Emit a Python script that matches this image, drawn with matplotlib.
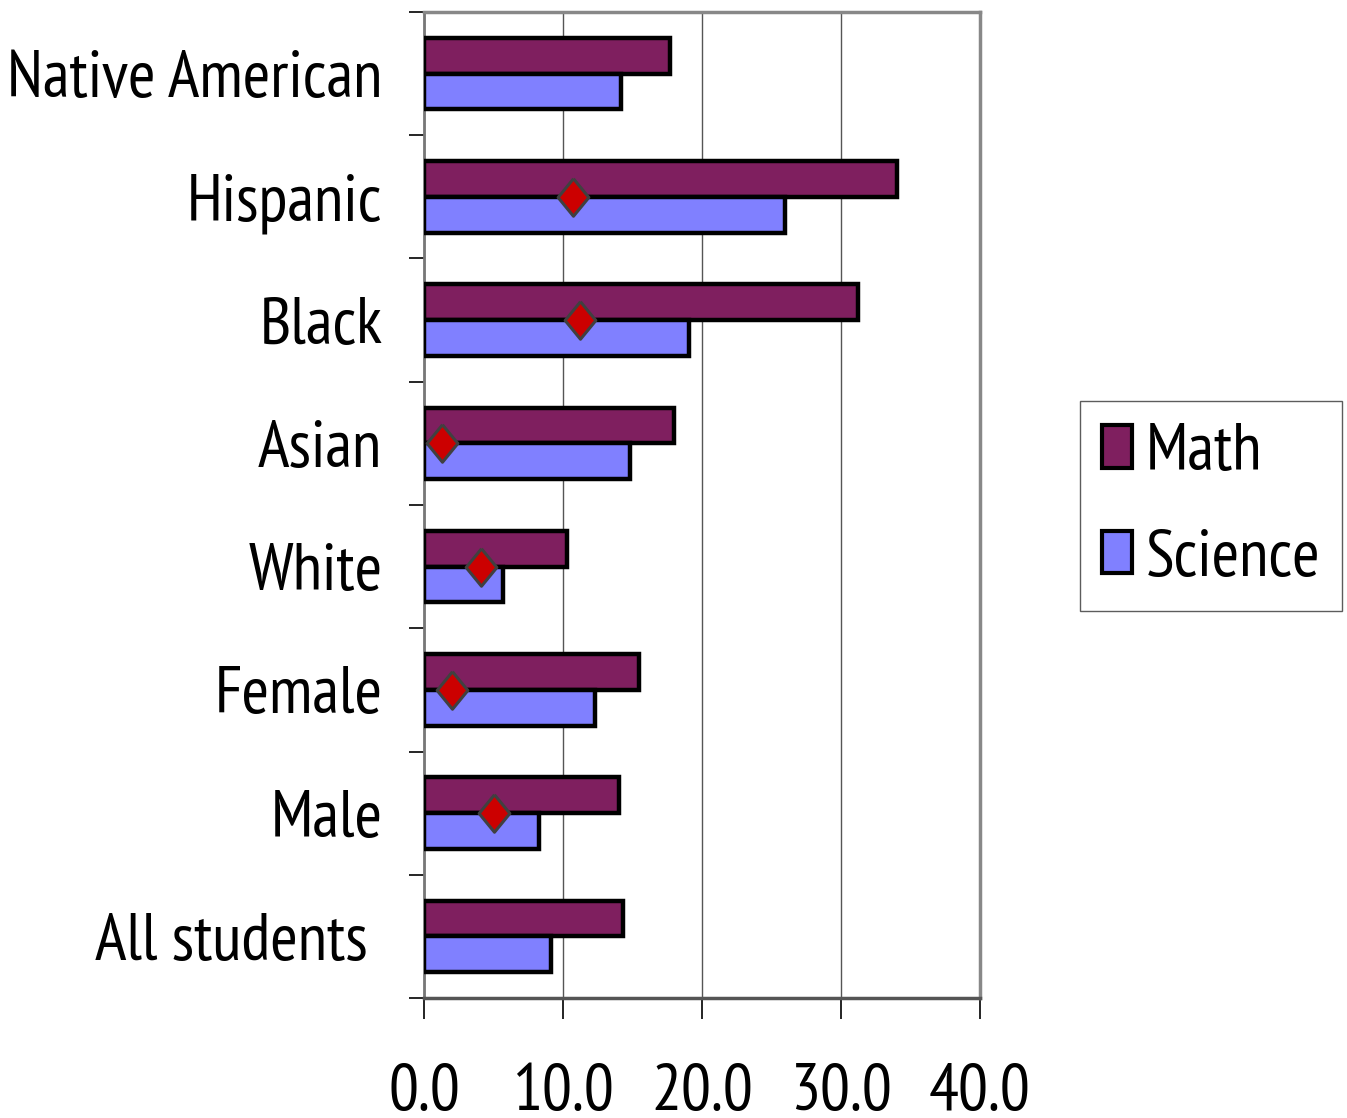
import numpy as np
import matplotlib
matplotlib.use('Agg')
import matplotlib.pyplot as plt
from matplotlib.patches import Patch

groups = ['All students ', 'Male', 'Female', 'White', 'Asian', 'Black', 'Hispanic', 'Native American']
math = [14.3, 14.0, 15.5, 10.3, 18.0, 31.2, 34.0, 17.7]
science = [9.1, 8.3, 12.3, 5.7, 14.8, 19.1, 26.0, 14.2]
# red diamonds (no point for All students / Native American)
gap = [np.nan, 5.0, 2.0, 4.1, 1.3, 11.2, 10.7, np.nan]
xticks = [0, 10, 20, 30, 40]

plt.rcParams['font.family'] = ['PT Sans Narrow', 'Roboto Condensed', 'Liberation Sans', 'DejaVu Sans']

fig = plt.figure(figsize=(13.47, 11.18), dpi=100)
ax = fig.add_axes([0.3148, 0.1073, 0.4127, 0.8820])

y = np.arange(len(groups))
h = 0.29
ax.barh(y + h / 2, math, height=h, color='#7F1F5F', edgecolor='black', linewidth=3.2, zorder=3)
ax.barh(y - h / 2, science, height=h, color='#8080FF', edgecolor='black', linewidth=3.2, zorder=3)

diamond = [(0, 1), (0.82, 0), (0, -1), (-0.82, 0), (0, 1)]
ax.plot(gap, y, linestyle='none', marker=diamond, markersize=27, color='#CC0000',
        markeredgecolor='#404040', markeredgewidth=2.2, zorder=5)

ax.set_xlim(0, 40)
ax.set_ylim(-0.5, len(groups) - 0.5)
ax.set_xticks(xticks)
ax.set_xticklabels(['%.1f' % v for v in xticks], fontsize=48)
ax.set_yticks(y)
ax.set_yticklabels(groups, fontsize=48, va='center_baseline')
ax.set_yticks(np.arange(len(groups) + 1) - 0.5, minor=True)
ax.tick_params(axis='y', which='major', length=0, pad=30)
ax.tick_params(axis='y', which='minor', length=11, width=1.2, color='black', direction='out')
ax.tick_params(axis='x', length=15, width=1.2, color='black', direction='out', pad=32)

ax.grid(axis='x', color='#555555', linewidth=1, zorder=0)
for s in ['top', 'right']:
    ax.spines[s].set_color('#888888')
    ax.spines[s].set_linewidth(2.5)
ax.spines['left'].set_color('#777777')
ax.spines['left'].set_linewidth(2)
ax.spines['bottom'].set_color('#555555')
ax.spines['bottom'].set_linewidth(2.5)

handles = [Patch(facecolor='#7F1F5F', edgecolor='black', linewidth=3, label='Math'),
           Patch(facecolor='#8080FF', edgecolor='black', linewidth=3, label='Science')]
leg = fig.legend(handles=handles, loc='center left', bbox_to_anchor=(0.8018, 0.5474),
                 fontsize=48, frameon=True, fancybox=False, edgecolor='#333333',
                 handlelength=0.45, handleheight=0.6, handletextpad=0.2,
                 labelspacing=0.68, borderpad=0.33, borderaxespad=0)
leg.get_frame().set_linewidth(1)

fig.savefig('out.png', dpi=100)
